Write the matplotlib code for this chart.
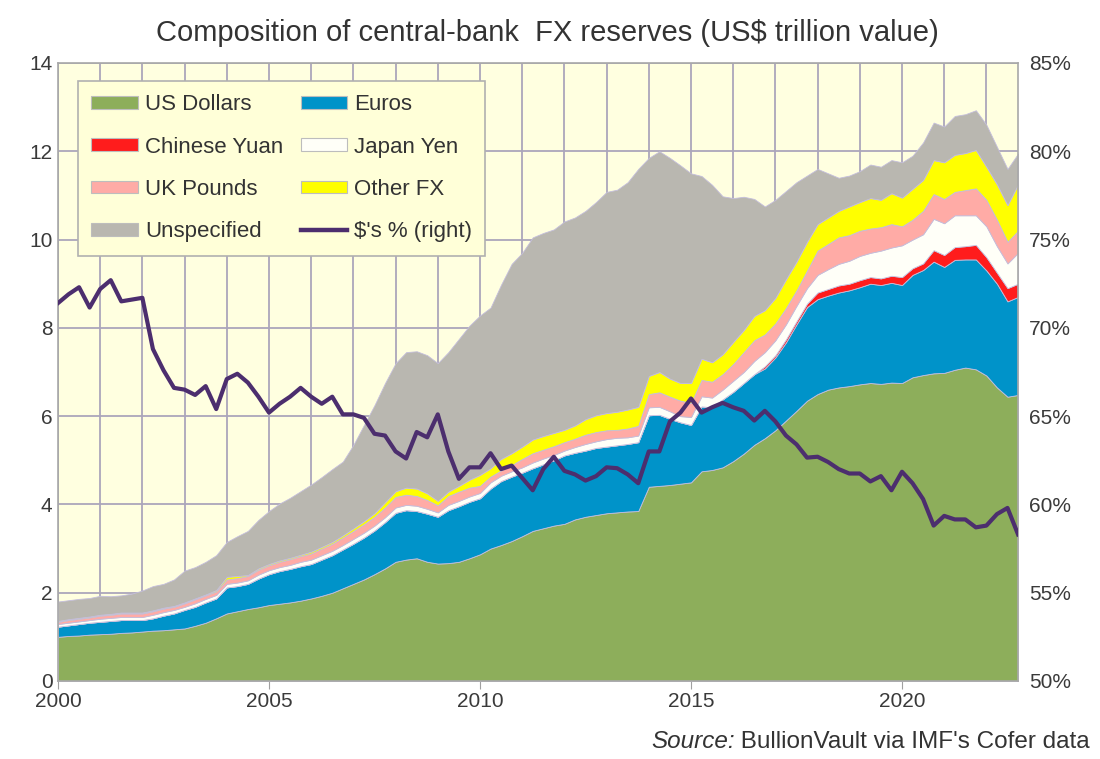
import numpy as np
import matplotlib
matplotlib.use("Agg")
import matplotlib.pyplot as plt
from matplotlib.patches import Patch
from matplotlib.lines import Line2D
from matplotlib.ticker import MultipleLocator, FuncFormatter

plt.rcParams['font.family'] = ['Liberation Sans', 'DejaVu Sans']

# Quarterly data, 2000Q1 .. 2022Q4 (US$ trillion)
start_year = 2000
usd = [1.00, 1.02, 1.03, 1.05, 1.06, 1.07, 1.09, 1.10, 1.12, 1.14, 1.15, 1.17, 1.19, 1.25, 1.32, 1.42,
       1.53, 1.58, 1.63, 1.67, 1.72, 1.75, 1.78, 1.82, 1.87, 1.93, 2.00, 2.10, 2.20, 2.30, 2.42, 2.55,
       2.70, 2.75, 2.78, 2.70, 2.66, 2.67, 2.70, 2.78, 2.87, 3.00, 3.08, 3.17, 3.28, 3.40, 3.46, 3.52,
       3.56, 3.66, 3.72, 3.76, 3.80, 3.82, 3.84, 3.85, 4.40, 4.42, 4.44, 4.47, 4.50, 4.75, 4.78, 4.84,
       4.98, 5.15, 5.35, 5.50, 5.68, 5.90, 6.12, 6.35, 6.50, 6.60, 6.65, 6.68, 6.72, 6.75, 6.73, 6.76,
       6.75, 6.88, 6.93, 6.97, 6.98, 7.05, 7.10, 7.06, 6.92, 6.65, 6.44, 6.48]
eur = [0.23, 0.24, 0.26, 0.27, 0.28, 0.29, 0.29, 0.28, 0.26, 0.28, 0.33, 0.36, 0.42, 0.43, 0.46, 0.45,
       0.59, 0.57, 0.57, 0.65, 0.70, 0.74, 0.76, 0.78, 0.78, 0.82, 0.85, 0.88, 0.91, 0.95, 0.99, 1.05,
       1.11, 1.12, 1.07, 1.09, 1.06, 1.20, 1.26, 1.28, 1.27, 1.36, 1.45, 1.46, 1.44, 1.42, 1.45, 1.48,
       1.55, 1.51, 1.50, 1.52, 1.51, 1.52, 1.53, 1.56, 1.62, 1.61, 1.50, 1.39, 1.30, 1.47, 1.42, 1.54,
       1.57, 1.60, 1.60, 1.58, 1.65, 1.77, 1.96, 2.12, 2.15, 2.13, 2.15, 2.17, 2.20, 2.25, 2.24, 2.26,
       2.22, 2.32, 2.38, 2.53, 2.40, 2.49, 2.45, 2.49, 2.38, 2.35, 2.16, 2.22]
cny = [0.0] * 67 + [0.05, 0.05, 0.07, 0.07, 0.08, 0.15, 0.15, 0.16, 0.15, 0.16, 0.15, 0.15, 0.16,
                    0.18, 0.15, 0.15, 0.26, 0.27, 0.29, 0.30, 0.33, 0.30, 0.25, 0.30, 0.30]
jpy = [0.06, 0.06, 0.06, 0.06, 0.07, 0.07, 0.07, 0.07, 0.07, 0.08, 0.08, 0.08, 0.07, 0.08, 0.08, 0.08,
       0.08, 0.08, 0.08, 0.09, 0.09, 0.09, 0.09, 0.10, 0.10, 0.10, 0.10, 0.10, 0.11, 0.11, 0.11, 0.11,
       0.12, 0.12, 0.12, 0.11, 0.10, 0.12, 0.12, 0.12, 0.12, 0.14, 0.12, 0.12, 0.12, 0.13, 0.13, 0.12,
       0.11, 0.13, 0.15, 0.15, 0.17, 0.17, 0.15, 0.15, 0.18, 0.18, 0.17, 0.14, 0.18, 0.23, 0.22, 0.22,
       0.25, 0.25, 0.30, 0.32, 0.34, 0.34, 0.35, 0.35, 0.40, 0.45, 0.49, 0.52, 0.55, 0.55, 0.63, 0.64,
       0.72, 0.65, 0.66, 0.71, 0.72, 0.72, 0.70, 0.67, 0.70, 0.60, 0.56, 0.70]
gbp = [0.05, 0.06, 0.06, 0.06, 0.07, 0.07, 0.08, 0.08, 0.08, 0.08, 0.08, 0.07, 0.08, 0.09, 0.08, 0.08,
       0.10, 0.10, 0.10, 0.11, 0.11, 0.12, 0.13, 0.13, 0.14, 0.15, 0.16, 0.17, 0.18, 0.19, 0.20, 0.22,
       0.24, 0.23, 0.22, 0.20, 0.16, 0.20, 0.21, 0.20, 0.16, 0.13, 0.12, 0.14, 0.19, 0.21, 0.20, 0.20,
       0.19, 0.19, 0.21, 0.21, 0.20, 0.18, 0.20, 0.22, 0.30, 0.33, 0.33, 0.35, 0.32, 0.37, 0.36, 0.35,
       0.38, 0.45, 0.47, 0.40, 0.38, 0.37, 0.35, 0.40, 0.55, 0.57, 0.60, 0.58, 0.57, 0.55, 0.53, 0.53,
       0.43, 0.45, 0.53, 0.56, 0.55, 0.53, 0.57, 0.61, 0.60, 0.60, 0.49, 0.50]
other = [0.02, 0.02, 0.02, 0.02, 0.02, 0.02, 0.02, 0.02, 0.02, 0.02, 0.02, 0.02, 0.02, 0.02, 0.02, 0.03,
         0.06, 0.05, 0.02, 0.03, 0.03, 0.03, 0.03, 0.03, 0.04, 0.04, 0.04, 0.05, 0.06, 0.07, 0.08, 0.12,
         0.13, 0.16, 0.17, 0.15, 0.10, 0.10, 0.13, 0.18, 0.25, 0.19, 0.26, 0.27, 0.28, 0.31, 0.31, 0.30,
         0.28, 0.30, 0.35, 0.38, 0.39, 0.41, 0.43, 0.43, 0.41, 0.46, 0.41, 0.40, 0.45, 0.48, 0.44, 0.45,
         0.50, 0.50, 0.55, 0.55, 0.58, 0.65, 0.65, 0.65, 0.60, 0.60, 0.60, 0.65, 0.65, 0.69, 0.62, 0.70,
         0.65, 0.70, 0.70, 0.77, 0.83, 0.84, 0.84, 0.87, 0.75, 0.80, 0.83, 1.05]
unspecified = [0.44, 0.43, 0.43, 0.42, 0.43, 0.40, 0.39, 0.43, 0.50, 0.55, 0.54, 0.60, 0.72, 0.71, 0.74, 0.79,
               0.79, 0.90, 1.00, 1.10, 1.20, 1.29, 1.36, 1.44, 1.52, 1.58, 1.65, 1.67, 1.89, 2.18, 2.45, 2.70,
               2.90, 3.07, 3.11, 3.13, 3.12, 3.16, 3.33, 3.49, 3.61, 3.64, 3.95, 4.29, 4.39, 4.58, 4.60, 4.61,
               4.72, 4.71, 4.72, 4.83, 5.01, 5.03, 5.15, 5.39, 4.94, 5.00, 5.00, 4.93, 4.75, 4.14, 4.02, 3.58,
               3.26, 3.02, 2.65, 2.35, 2.22, 2.00, 1.80, 1.50, 1.25, 1.00, 0.75, 0.70, 0.70, 0.76, 0.75, 0.75,
               0.80, 0.75, 0.85, 0.85, 0.81, 0.88, 0.88, 0.90, 0.95, 0.85, 0.82, 0.70]
usd_share = [71.4, 71.9, 72.3, 71.15, 72.2, 72.7, 71.5, 71.6, 71.7, 68.8, 67.6, 66.6, 66.5, 66.2, 66.7, 65.4,
             67.1, 67.4, 66.9, 66.1, 65.2, 65.7, 66.1, 66.6, 66.1, 65.7, 66.1, 65.1, 65.1, 64.9, 64.0, 63.9,
             63.0, 62.6, 64.1, 63.8, 65.1, 63.0, 61.45, 62.1, 62.1, 62.9, 62.0, 62.2, 61.5, 60.8, 62.0, 62.7,
             61.9, 61.7, 61.35, 61.6, 62.1, 62.05, 61.7, 61.2, 63.0, 63.0, 64.7, 65.2, 66.0, 65.2, 65.5, 65.75,
             65.5, 65.3, 64.75, 65.3, 64.7, 63.9, 63.4, 62.65, 62.7, 62.4, 62.0, 61.75, 61.75, 61.3, 61.6, 60.8,
             61.85, 61.2, 60.3, 58.8, 59.35, 59.15, 59.15, 58.7, 58.8, 59.45, 59.8, 58.3]

labels = ["US Dollars", "Euros", "Chinese Yuan", "Japan Yen", "UK Pounds", "Other FX", "Unspecified"]
colors = ["#8DAE5B", "#0093C9", "#FF1C1C", "#FFFFF8", "#FFABA6", "#FFFF00", "#B9B7B0"]
line_label = "$'s % (right)"
line_color = "#4C2E6E"

x = start_year + np.arange(len(usd)) / 4.0

fig = plt.figure(figsize=(11, 7.59), dpi=100)
ax = fig.add_axes([0.0527, 0.1028, 0.8728, 0.8142])
ax.set_facecolor("#FFFFE0")

series = [usd, eur, cny, jpy, gbp, other, unspecified]
polys = ax.stackplot(x, *series, colors=colors, linewidth=0.6, edgecolor="#C4BEDC", zorder=2)

ax.set_xlim(2000, x[-1])
ax.set_ylim(0, 14)
ax.xaxis.set_major_locator(MultipleLocator(5))
ax.xaxis.set_minor_locator(MultipleLocator(1))
ax.yaxis.set_major_locator(MultipleLocator(2))
ax.grid(True, which="major", axis="y", color="#ABA6BB", linewidth=1.3, zorder=1)
ax.grid(True, which="both", axis="x", color="#ABA6BB", linewidth=1.3, zorder=1)
ax.set_axisbelow(True)
ax.tick_params(axis="x", which="major", length=6, color="#A0A0A0", labelsize=15,
               labelcolor="#3A3A3A", pad=2)
ax.tick_params(axis="x", which="minor", length=0)
ax.tick_params(axis="y", length=0, labelsize=15, labelcolor="#3A3A3A", pad=4)
for s in ax.spines.values():
    s.set_color("#A8A8A8")
    s.set_linewidth(1.2)

ax2 = ax.twinx()
ax2.plot(x, usd_share, color=line_color, linewidth=3.0, zorder=5)
ax2.set_ylim(50, 85)
ax2.yaxis.set_major_locator(MultipleLocator(5))
ax2.yaxis.set_major_formatter(FuncFormatter(lambda v, p: f"{int(round(v))}%"))
ax2.tick_params(axis="y", length=0, labelsize=15, labelcolor="#3A3A3A", pad=8)
for s in ax2.spines.values():
    s.set_visible(False)

fig.text(0.498, 0.957, "Composition of central-bank  FX reserves (US$ trillion value)",
         ha="center", va="center", fontsize=21, color="#333333")

# legend: column-major order for 2 columns
h = [Patch(facecolor=c, edgecolor="#BDBDBD", linewidth=0.8) for c in colors]
line_h = Line2D([0], [0], color=line_color, linewidth=3.2)
handles = [h[0], h[2], h[4], h[6], h[1], h[3], h[5], line_h]
lab = [labels[0], labels[2], labels[4], labels[6], labels[1], labels[3], labels[5], line_label]
leg = ax2.legend(handles, lab, ncol=2, loc="upper left", bbox_to_anchor=(0.021, 0.971),
                 borderaxespad=0, fontsize=16, frameon=True, fancybox=False, framealpha=1,
                 facecolor="#FFFFD8", edgecolor="#B0B0B0", labelspacing=0.96,
                 handlelength=2.1, handleheight=0.5, handletextpad=0.3, columnspacing=0.8,
                 borderpad=0.6, labelcolor="#333333")
leg.get_frame().set_linewidth(1.2)

src_main = " BullionVault via IMF's Cofer data"
t2 = fig.text(0.991, 0.023, src_main, ha="right", va="center", fontsize=17.5, color="#333333")
fig.canvas.draw()
bb = t2.get_window_extent()
fig.text(bb.x0 / fig.bbox.width, 0.023, "Source:", ha="right", va="center", fontsize=17.5,
         color="#333333", style="italic")

fig.savefig("out.png", dpi=100)
